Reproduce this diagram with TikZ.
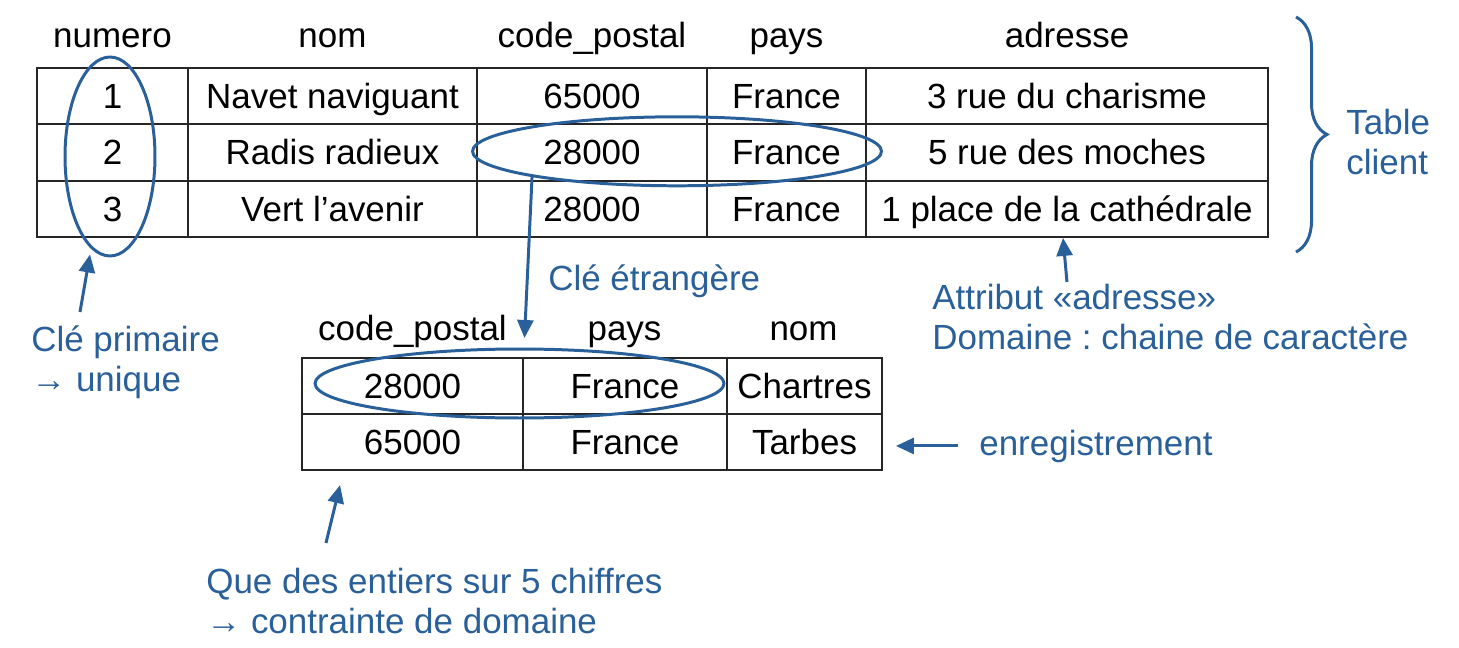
\documentclass[tikz,border=0pt]{standalone}
\usepackage{fontspec}
\setmainfont{Liberation Sans}
\usetikzlibrary{shapes.geometric,arrows.meta,decorations.pathreplacing,positioning}
\definecolor{bleu}{HTML}{2A6099}
\frenchspacing

\begin{document}
\begin{tikzpicture}[x=0.02cm,y=-0.02cm,
        every node/.style={font=\fontsize{19.9}{22.8}\selectfont},
        cell/.style={rectangle,draw=black!85,line width=1.1pt,inner sep=0pt,
            text height=0.5cm,text depth=0pt,minimum height=1.126cm},
        entete/.style={anchor=base,inner sep=0pt},
        note/.style={text=bleu,align=left,inner sep=0pt,anchor=north west},
        cercle/.style={ellipse,draw=bleu,line width=1.7pt,inner sep=0pt},
        fleche/.style={draw=bleu,line width=1.7pt,-{Triangle[length=0.36cm,width=0.32cm]}}]
        \useasboundingbox (0,0) rectangle (1459,648);

        % table client : en-tetes
        \node[entete] (hnum) at (112.5,48) {numero};
        \node[entete] (hnom) at (332.5,48) {nom};
        \node[entete] (hcp) at (592,48) {code\_postal};
        \node[entete] (hpays) at (786.5,48) {pays};
        \node[entete] (hadr) at (1067,48) {adresse};

        % table client : lignes
        \node[cell,minimum width=3.02cm] (a11) at (112.5,96.2) {1};
        \node[cell,minimum width=5.78cm] (a12) at (332.5,96.2) {Navet naviguant};
        \node[cell,minimum width=4.6cm] (a13) at (592,96.2) {65000};
        \node[cell,minimum width=3.18cm] (a14) at (786.5,96.2) {France};
        \node[cell,minimum width=8.04cm] (a15) at (1067,96.2) {3 rue du charisme};

        \node[cell,minimum width=3.02cm] (a21) at (112.5,152.5) {2};
        \node[cell,minimum width=5.78cm] (a22) at (332.5,152.5) {Radis radieux};
        \node[cell,minimum width=4.6cm] (a23) at (592,152.5) {28000};
        \node[cell,minimum width=3.18cm] (a24) at (786.5,152.5) {France};
        \node[cell,minimum width=8.04cm] (a25) at (1067,152.5) {5 rue des moches};

        \node[cell,minimum width=3.02cm] (a31) at (112.5,208.8) {3};
        \node[cell,minimum width=5.78cm] (a32) at (332.5,208.8) {Vert l’avenir};
        \node[cell,minimum width=4.6cm] (a33) at (592,208.8) {28000};
        \node[cell,minimum width=3.18cm] (a34) at (786.5,208.8) {France};
        \node[cell,minimum width=8.04cm] (a35) at (1067,208.8) {1 place de la cathédrale};

        % table des villes
        \node[entete] (hcp2) at (412.5,340) {code\_postal};
        \node[entete] (hpays2) at (624.5,340) {pays};
        \node[entete] (hnom2) at (803.5,340) {nom};

        \node[cell,minimum width=4.42cm] (b11) at (412.5,386) {28000};
        \node[cell,minimum width=4.08cm] (b12) at (625,386) {France};
        \node[cell,minimum width=3.1cm] (b13) at (804.5,386) {Chartres};

        \node[cell,minimum width=4.42cm] (b21) at (412.5,442) {65000};
        \node[cell,minimum width=4.08cm] (b22) at (625,442) {France};
        \node[cell,minimum width=3.1cm] (b23) at (804.5,442) {Tarbes};

        % cercles
        \node[cercle,minimum width=1.8cm,minimum height=3.98cm] (pk) at (110,156.5) {};
        \node[cercle,minimum width=8.18cm,minimum height=1.38cm] (fk) at (677,151.3) {};
        \node[cercle,minimum width=8.18cm,minimum height=1.38cm] (fk2) at (519.5,383.5) {};

        % accolade
        \coordinate (acchaut) at (1296,17);
        \coordinate (accbas) at (1296,252);
        \draw[bleu,line width=1.7pt,decorate,decoration={brace,amplitude=0.62cm}] (acchaut) -- (accbas);

        % annotations
        \node[note] (table) at (1346,109) {Table\\client};
        \node[note,anchor=base west] (etrangere) at (548,291) {Clé étrangère};
        \node[note] (primaire) at (31,325) {Clé primaire\\→ unique};
        \node[note] (attribut) at (932,284) {Attribut «adresse»\\Domaine : chaine de caractère};
        \node[note,anchor=base west] (enreg) at (979,455) {enregistrement};
        \node[note] (entiers) at (206,568) {Que des entiers sur 5 chiffres\\→ contrainte de domaine};

        % fleches
        \coordinate (fkbout) at (524.5,338);
        \draw[fleche] (fk.190) -- (fkbout);
        \draw[fleche] ([xshift=0.98cm,yshift=0.26cm]primaire.north west) -- ([xshift=-0.4cm,yshift=0.06cm]pk.south);
        \draw[fleche] ([xshift=2.7cm,yshift=0.04cm]attribut.north west) -- ([xshift=-0.08cm]a35.south);
        \draw[fleche] ([xshift=-0.42cm]enreg.west) -- ([xshift=0.26cm]enreg.west -| b23.east);
        \draw[fleche] ([xshift=2.4cm,yshift=0.5cm]entiers.north west) -- ([xshift=0.78cm,yshift=-0.28cm]b21.south west);
    \end{tikzpicture}
\end{document}
